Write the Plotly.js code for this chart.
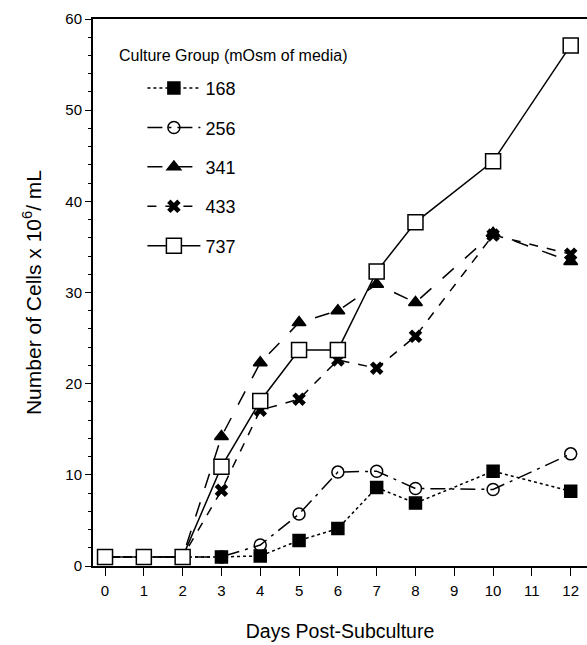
<!DOCTYPE html>
<html>
<head>
<meta charset="utf-8">
<script src="https://cdn.plot.ly/plotly-3.0.1.min.js"></script>
<style>html,body{margin:0;padding:0;background:#fff;}#chart{width:587px;height:645px;}</style>
</head>
<body>
<div id="chart"></div>
<script>
const days = [0, 1, 2, 3, 4, 5, 6, 7, 8, 10, 12];
const xTicks = [0, 1, 2, 3, 4, 5, 6, 7, 8, 9, 10, 11, 12];
const groupNames = ["168", "256", "341", "433", "737"];
const legendTitle = "Culture Group (mOsm of media)";
const g168 = [1.0, 1.0, 1.0, 1.0, 1.1, 2.8, 4.1, 8.6, 6.9, 10.4, 8.2];
const g256 = [1.0, 1.0, 1.0, 1.0, 2.3, 5.7, 10.3, 10.4, 8.5, 8.4, 12.3];
const g341 = [1.0, 1.0, 1.0, 14.2, 22.3, 26.7, 28.0, 30.9, 28.9, 36.5, 33.4];
const g433 = [1.0, 1.0, 1.0, 8.3, 17.1, 18.3, 22.6, 21.7, 25.2, 36.3, 34.2];
const g737 = [1.0, 1.0, 1.0, 10.9, 18.1, 23.7, 23.7, 32.3, 37.7, 44.4, 57.1];

const series = [g168, g256, g341, g433, g737];
const styles = [
  {dash: "dot", symbol: "square", size: 12, fill: "#000"},
  {dash: "longdashdot", symbol: "circle-open", size: 12, fill: "#000"},
  {dash: "longdash", symbol: "triangle-up", size: 12, fill: "#000"},
  {dash: "dash", symbol: "x", size: 12, fill: "#000"},
  {dash: "solid", symbol: "square", size: 15, fill: "#fff"}
];

const traces = series.map((vals, i) => ({
  x: days,
  y: vals,
  name: groupNames[i],
  legendgroup: "g" + i,
  type: "scatter",
  mode: "lines+markers",
  line: {color: "#000", width: 1.5, dash: styles[i].dash},
  marker: {
    symbol: styles[i].symbol,
    size: styles[i].size,
    color: styles[i].fill,
    line: {color: "#000", width: styles[i].symbol === "x" ? 0 : 1.5}
  }
}));

const font = "Liberation Sans, Arial, Helvetica, sans-serif";
const layout = {
  width: 587,
  height: 645,
  margin: {l: 93, r: 0, t: 19, b: 79},
  paper_bgcolor: "#fff",
  plot_bgcolor: "#fff",
  font: {family: font, color: "#000", size: 15},
  showlegend: true,
  legend: {
    x: 0.1, y: 0.907, xanchor: "left", yanchor: "top",
    bgcolor: "rgba(0,0,0,0)",
    font: {family: font, size: 18, color: "#000"},
    tracegroupgap: 13,
    itemwidth: 53
  },
  annotations: [{
    text: legendTitle,
    xref: "paper", yref: "paper",
    x: 0.0486, y: 0.934, xanchor: "left", yanchor: "middle",
    showarrow: false,
    font: {family: font, size: 16, color: "#000"}
  }],
  xaxis: {
    range: [-0.31, 12.42],
    tickmode: "array",
    tickvals: xTicks,
    ticktext: xTicks.map(String),
    ticks: "outside",
    ticklen: 8,
    tickwidth: 1,
    tickcolor: "#000",
    ticklabelstandoff: 2,
    showline: true,
    linecolor: "#000",
    linewidth: 2,
    mirror: true,
    showgrid: false,
    zeroline: false,
    tickfont: {family: font, size: 15},
    title: {text: "Days Post-Subculture", font: {family: font, size: 19.5}, standoff: 26}
  },
  yaxis: {
    range: [0, 60],
    tickmode: "linear",
    tick0: 0,
    dtick: 10,
    ticks: "outside",
    ticklen: 6,
    tickwidth: 1,
    tickcolor: "#000",
    minor: {dtick: 2, ticks: "outside", ticklen: 3, tickcolor: "#000"},
    showline: true,
    linecolor: "#000",
    linewidth: 2,
    showgrid: false,
    zeroline: false,
    tickfont: {family: font, size: 15},
    title: {text: "Number of Cells x 10<sup>6</sup>/ mL", font: {family: font, size: 21}, standoff: 18}
  }
};

Plotly.newPlot("chart", traces, layout, {displayModeBar: false, responsive: false});
</script>
</body>
</html>
